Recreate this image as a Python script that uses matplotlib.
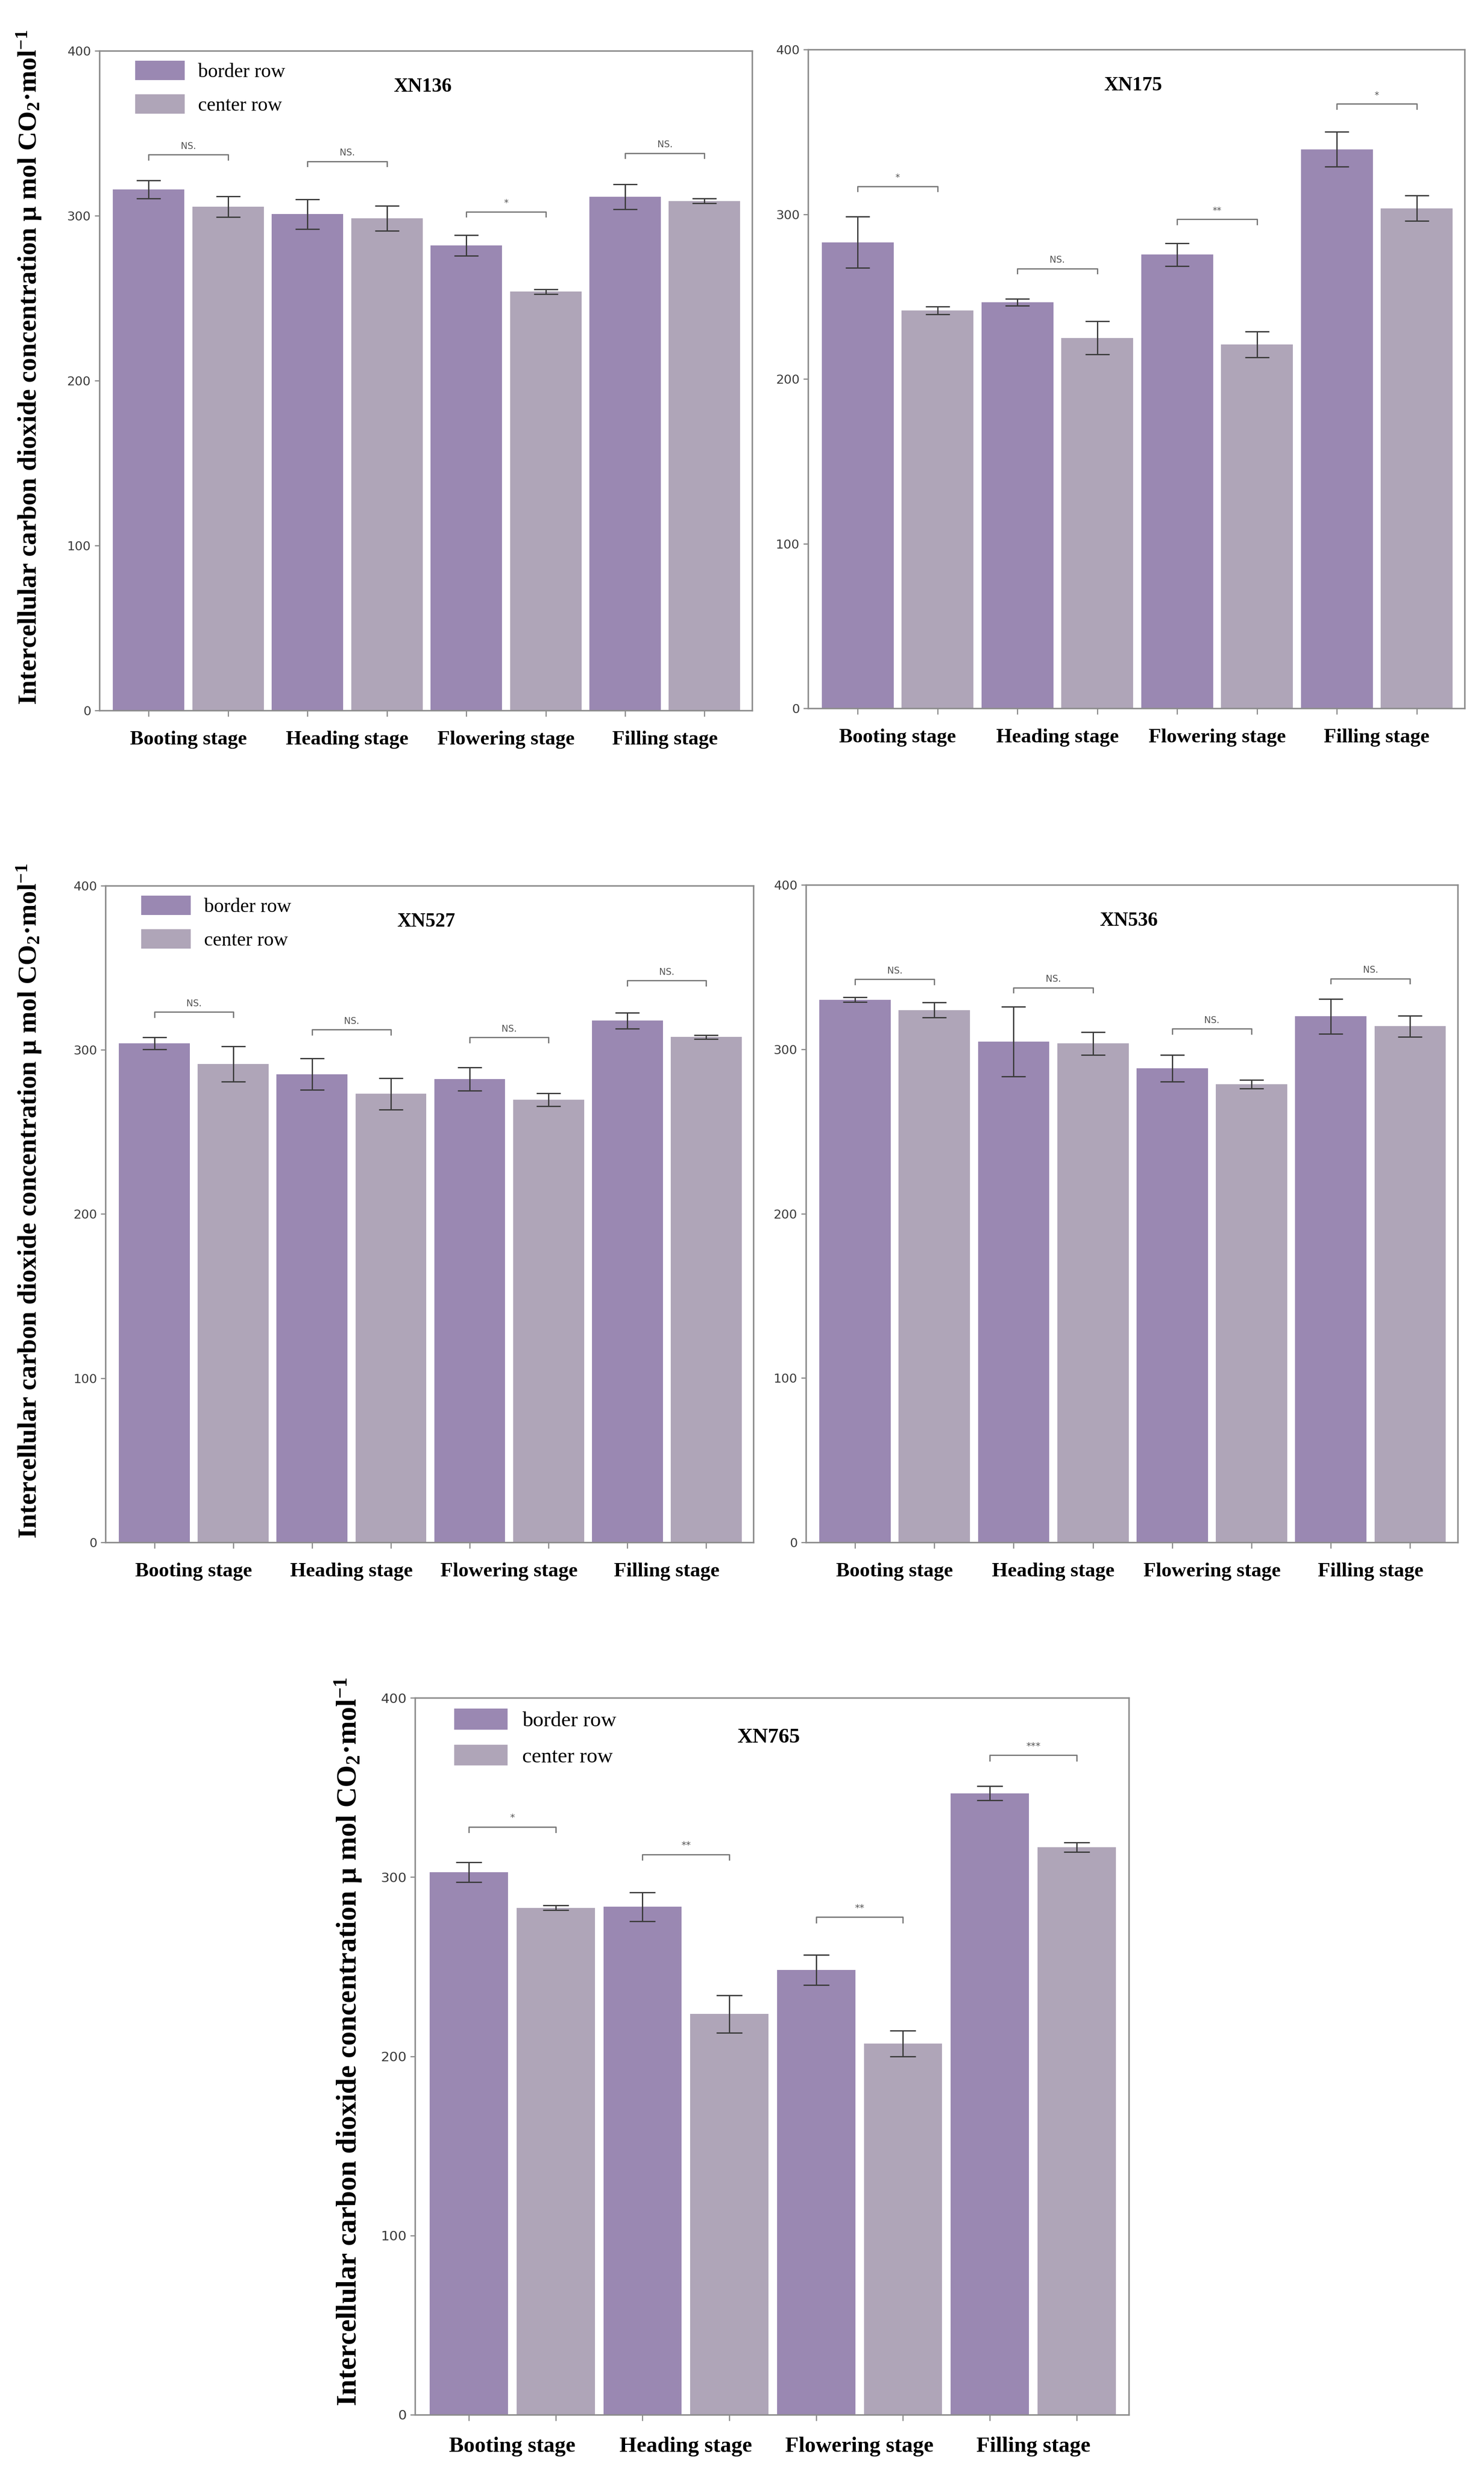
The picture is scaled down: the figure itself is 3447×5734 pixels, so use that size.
import matplotlib
matplotlib.use("Agg")
import matplotlib.pyplot as plt
import numpy as np

# ---- data ----
stages = ['Booting stage', 'Heading stage', 'Flowering stage', 'Filling stage']
series_names = ['border row', 'center row']

xn136_border = [316, 301, 282, 311.5]
xn136_border_err = [5.5, 9, 6.3, 7.5]
xn136_center = [305.5, 298.5, 254, 309]
xn136_center_err = [6.3, 7.6, 1.4, 1.4]
xn136_sig = ['NS.', 'NS.', '*', 'NS.']
xn136_sig_y = [337, 333, 302.5, 338]

xn175_border = [283, 246.5, 275.5, 339.5]
xn175_border_err = [15.5, 2.1, 7, 10.5]
xn175_center = [241.6, 225, 221, 303.7]
xn175_center_err = [2.4, 10, 7.8, 7.6]
xn175_sig = ['*', 'NS.', '**', '*']
xn175_sig_y = [317, 267, 297, 367]

xn527_border = [304, 285.2, 282.2, 317.8]
xn527_border_err = [3.6, 9.5, 7, 4.8]
xn527_center = [291.3, 273.2, 269.6, 307.8]
xn527_center_err = [10.8, 9.6, 4, 1.2]
xn527_sig = ['NS.', 'NS.', 'NS.', 'NS.']
xn527_sig_y = [323, 312.3, 307.5, 342.2]

xn536_border = [330.2, 304.7, 288.4, 320]
xn536_border_err = [1.4, 21.3, 8.1, 10.5]
xn536_center = [323.9, 303.5, 278.8, 314]
xn536_center_err = [4.5, 7, 2.6, 6.5]
xn536_sig = ['NS.', 'NS.', 'NS.', 'NS.']
xn536_sig_y = [342.6, 337.4, 312.5, 343]

xn765_border = [302.8, 283.4, 248.2, 346.8]
xn765_border_err = [5.5, 8.1, 8.3, 4]
xn765_center = [282.9, 223.6, 207.1, 316.7]
xn765_center_err = [1.4, 10.4, 7.2, 2.6]
xn765_sig = ['*', '**', '**', '***']
xn765_sig_y = [328, 312.7, 277.7, 368]

ylabel = 'Intercellular carbon dioxide concentration \u03bc mol CO$\\mathregular{_2}$\u00b7mol$\\mathregular{^{-1}}$'

# ---- style ----
c_border = '#9a88b2'
c_center = '#afa5b8'
spine_c = '#8c8c8c'
err_c = '#3c3c3c'
brk_c = '#7a7a7a'
serif = 'Liberation Serif'


def draw_panel(ax, name, border, border_err, center, center_err, sig, sig_y,
               legend=False, show_ylabel=False, s=1.0, ylab_x=-0.108):
    n = len(stages)
    xb = np.arange(n) * 2
    xc = xb + 1
    ax.bar(xb, border, width=0.9, color=c_border, label=series_names[0], zorder=2)
    ax.bar(xc, center, width=0.9, color=c_center, label=series_names[1], zorder=2)
    ax.errorbar(xb, border, yerr=border_err, fmt='none', ecolor=err_c,
                elinewidth=2.2, capsize=20 * s, capthick=2.2, zorder=3)
    ax.errorbar(xc, center, yerr=center_err, fmt='none', ecolor=err_c,
                elinewidth=2.2, capsize=20 * s, capthick=2.2, zorder=3)

    # significance brackets
    for i in range(n):
        y = sig_y[i]
        ax.plot([xb[i], xb[i], xc[i], xc[i]], [y - 3, y, y, y - 3],
                color=brk_c, lw=2.2, zorder=3)
        ax.text((xb[i] + xc[i]) / 2, y + 2.5, sig[i], ha='center', va='bottom',
                fontsize=15 * s, color='#555555', family='DejaVu Sans')

    ax.set_xlim(-0.62, 2 * n - 0.4)
    ax.set_ylim(0, 400)
    ax.set_yticks([0, 100, 200, 300, 400])
    ax.set_xticks(np.arange(2 * n))
    ax.set_xticks(xb + 0.5, minor=True)
    ax.set_xticklabels(stages, minor=True, fontsize=34 * s, fontweight='bold',
                       family=serif)
    ax.tick_params(axis='x', which='major', labelbottom=False, length=10,
                   width=2, color=spine_c, direction='out')
    ax.tick_params(axis='x', which='minor', length=0, pad=34 * s)
    ax.tick_params(axis='y', length=8, width=2, color=spine_c, direction='out',
                   labelsize=21 * s, labelcolor='#3d3d3d', pad=6)
    for sp in ax.spines.values():
        sp.set_color(spine_c)
        sp.set_linewidth(2.5)

    ax.text(0.495, 0.945, name, transform=ax.transAxes, ha='center', va='center',
            fontsize=33 * s, fontweight='bold', family=serif)

    if legend:
        ax.legend(loc='upper left', bbox_to_anchor=(0.055, 0.985), frameon=False,
                  prop={'family': serif, 'size': 33 * s}, handlelength=2.5,
                  handleheight=1.14, labelspacing=0.65, handletextpad=0.68,
                  borderpad=0, borderaxespad=0)
    if show_ylabel:
        ax.set_ylabel(ylabel, fontsize=44 * s, fontweight='bold', family=serif,
                      va='center')
        ax.yaxis.set_label_coords(ylab_x, 0.52)


fig = plt.figure(figsize=(34.48, 57.34), dpi=100)

ax1 = fig.add_axes([0.0670, 0.7122, 0.4397, 0.2672])
ax2 = fig.add_axes([0.5444, 0.7131, 0.4423, 0.2668])
ax3 = fig.add_axes([0.0711, 0.3753, 0.4365, 0.2660])
ax4 = fig.add_axes([0.5429, 0.3753, 0.4391, 0.2663])
ax5 = fig.add_axes([0.2796, 0.0220, 0.4808, 0.2903])

draw_panel(ax1, 'XN136', xn136_border, xn136_border_err, xn136_center,
           xn136_center_err, xn136_sig, xn136_sig_y, legend=True, show_ylabel=True,
           ylab_x=-0.108)
draw_panel(ax2, 'XN175', xn175_border, xn175_border_err, xn175_center,
           xn175_center_err, xn175_sig, xn175_sig_y)
draw_panel(ax3, 'XN527', xn527_border, xn527_border_err, xn527_center,
           xn527_center_err, xn527_sig, xn527_sig_y, legend=True, show_ylabel=True,
           ylab_x=-0.118)
draw_panel(ax4, 'XN536', xn536_border, xn536_border_err, xn536_center,
           xn536_center_err, xn536_sig, xn536_sig_y)
draw_panel(ax5, 'XN765', xn765_border, xn765_border_err, xn765_center,
           xn765_center_err, xn765_sig, xn765_sig_y, legend=True, show_ylabel=True,
           s=1.08, ylab_x=-0.094)

fig.savefig('out.png', dpi=100, facecolor='white')
